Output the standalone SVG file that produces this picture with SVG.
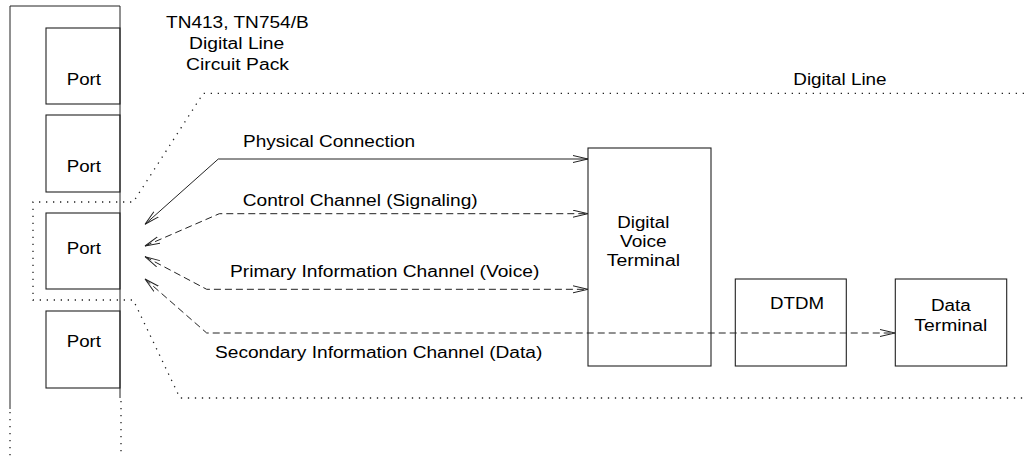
<svg xmlns="http://www.w3.org/2000/svg" width="1024" height="456" viewBox="0 0 1024 456">
<style>
text{font-family:"Liberation Sans",Arial,sans-serif;font-size:16px;fill:#000}
.box{fill:none;stroke:#222;stroke-width:1.1}
.solid{fill:none;stroke:#222;stroke-width:1}
.dash{fill:none;stroke:#222;stroke-width:1;stroke-dasharray:7,4}
.dot{fill:none;stroke:#222;stroke-width:1.3;stroke-dasharray:1.3,5.7}
</style>
<defs>
<marker id="arr" markerUnits="userSpaceOnUse" markerWidth="18" markerHeight="10" refX="15" refY="4" orient="auto-start-reverse" viewBox="0 0 18 10">
<path d="M0,0.5 L15,4 L0,7.5" fill="none" stroke="#222" stroke-width="1" stroke-dasharray="none"/>
</marker>
</defs>
<rect width="1024" height="456" fill="#fff"/>
<g id="circuit-pack">
<path class="solid" d="M10,409 L10,6 L120,6 L120,398"/>
<path class="dot" d="M10,412 L10,456 M121,401 L121,456"/>
<text x="166" y="27.5" textLength="142.7" lengthAdjust="spacingAndGlyphs">TN413, TN754/B</text>
<text x="189" y="48.5" textLength="95.3" lengthAdjust="spacingAndGlyphs">Digital Line</text>
<text x="186" y="70" textLength="103" lengthAdjust="spacingAndGlyphs">Circuit Pack</text>
</g>
<g id="port1"><rect class="box" x="46" y="28" width="74" height="76"/><text x="66.7" y="85" textLength="34.3" lengthAdjust="spacingAndGlyphs">Port</text></g>
<g id="port2"><rect class="box" x="46" y="115" width="74" height="77"/><text x="66.7" y="171.7" textLength="34.3" lengthAdjust="spacingAndGlyphs">Port</text></g>
<g id="port3"><rect class="box" x="46" y="213" width="74" height="76"/><text x="66.7" y="254.3" textLength="34.3" lengthAdjust="spacingAndGlyphs">Port</text></g>
<g id="port4"><rect class="box" x="46" y="311" width="74" height="77"/><text x="66.7" y="347.3" textLength="34.3" lengthAdjust="spacingAndGlyphs">Port</text></g>
<g id="digital-line">
<path class="dot" d="M1024,93.3 L203.3,93.3 L133.3,202 L33,202 L33,300 L133.3,300 L180,398 L1024,398"/>
<text x="793.3" y="85" textLength="93.3" lengthAdjust="spacingAndGlyphs">Digital Line</text>
</g>
<g id="dvt"><rect class="box" x="588" y="148" width="123" height="218"/>
<text x="617.3" y="228.3" textLength="52" lengthAdjust="spacingAndGlyphs">Digital</text>
<text x="620" y="246.7" textLength="46.7" lengthAdjust="spacingAndGlyphs">Voice</text>
<text x="606.7" y="266" textLength="73.3" lengthAdjust="spacingAndGlyphs">Terminal</text></g>
<g id="dtdm"><rect class="box" x="735.3" y="279" width="111" height="87"/>
<text x="770" y="309" textLength="54" lengthAdjust="spacingAndGlyphs">DTDM</text></g>
<g id="data-terminal"><rect class="box" x="895.3" y="279" width="111.4" height="87"/>
<text x="931" y="310.7" textLength="39.7" lengthAdjust="spacingAndGlyphs">Data</text>
<text x="914.3" y="330.7" textLength="73" lengthAdjust="spacingAndGlyphs">Terminal</text></g>
<g id="connectors">
<path class="solid" d="M145,224.3 L218.3,159 L588,159" marker-start="url(#arr)" marker-end="url(#arr)"/>
<path class="dash" d="M145,246 L219.3,213.7 L588,213.7" marker-start="url(#arr)" marker-end="url(#arr)"/>
<path class="dash" d="M145,256.7 L206.7,289.3 L588,289.3" marker-start="url(#arr)" marker-end="url(#arr)"/>
<path class="dash" d="M145,279 L206.7,333 L895,333" marker-start="url(#arr)" marker-end="url(#arr)"/>
<text x="243" y="147.3" textLength="172" lengthAdjust="spacingAndGlyphs">Physical Connection</text>
<text x="242.7" y="205.7" textLength="235" lengthAdjust="spacingAndGlyphs">Control Channel (Signaling)</text>
<text x="230" y="276.7" textLength="309.3" lengthAdjust="spacingAndGlyphs">Primary Information Channel (Voice)</text>
<text x="215" y="358.3" textLength="327.3" lengthAdjust="spacingAndGlyphs">Secondary Information Channel (Data)</text>
</g>
</svg>
